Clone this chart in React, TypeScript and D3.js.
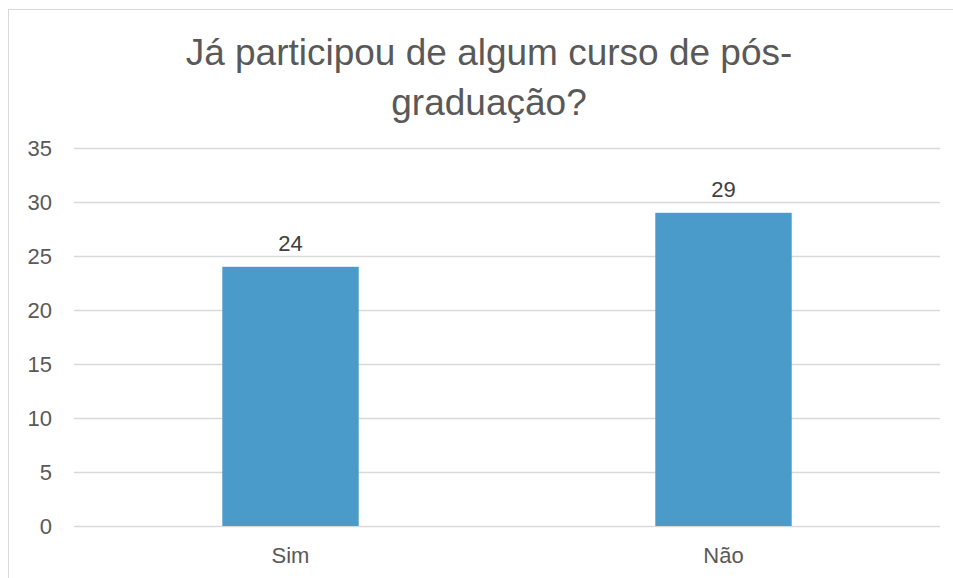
import React from "react";
import * as d3 from "d3";

const categories = ["Sim", "Não"];
const values = [24, 29];
const yTicks = [0, 5, 10, 15, 20, 25, 30, 35];
const titleLines = ["Já participou de algum curso de pós-", "graduação?"];

export default function App() {
  const W = 953, H = 578;
  const left = 74, right = 940, top = 148, bottom = 526;
  const x = d3.scaleBand().domain(categories).range([left, right]).paddingInner(0.685).paddingOuter(0.3425);
  const y = d3.scaleLinear().domain([0, 35]).range([bottom, top]);
  const font = "'Liberation Sans', Arial, sans-serif";
  return (
    <svg width={W} height={H} style={{ position: "absolute", left: 0, top: 0, background: "#fff" }} fontFamily={font}>
      <rect x={8.5} y={9.5} width={960} height={600} fill="#fff" stroke="#d9d9d9" strokeWidth={1} />
      {titleLines.map((t, i) => (
        <text key={i} x={489} y={65 + i * 50} textAnchor="middle" fontSize={37} fill="#595959">{t}</text>
      ))}
      {yTicks.map((t) => (
        <g key={t}>
          <line x1={left} x2={right} y1={Math.round(y(t)) + 0.5} y2={Math.round(y(t)) + 0.5} stroke="#d9d9d9" strokeWidth={1.5} />
          <text x={52} y={y(t) + 8} textAnchor="end" fontSize={22} fill="#595959">{t}</text>
        </g>
      ))}
      {categories.map((c, i) => (
        <g key={c}>
          <rect x={x(c)!} y={y(values[i])} width={x.bandwidth()} height={bottom - y(values[i])} fill="#4a9bca" />
          <text x={x(c)! + x.bandwidth() / 2} y={y(values[i]) - 16} textAnchor="middle" fontSize={22} fill="#404040">{values[i]}</text>
          <text x={x(c)! + x.bandwidth() / 2} y={563} textAnchor="middle" fontSize={22} fill="#595959">{c}</text>
        </g>
      ))}
    </svg>
  );
}
